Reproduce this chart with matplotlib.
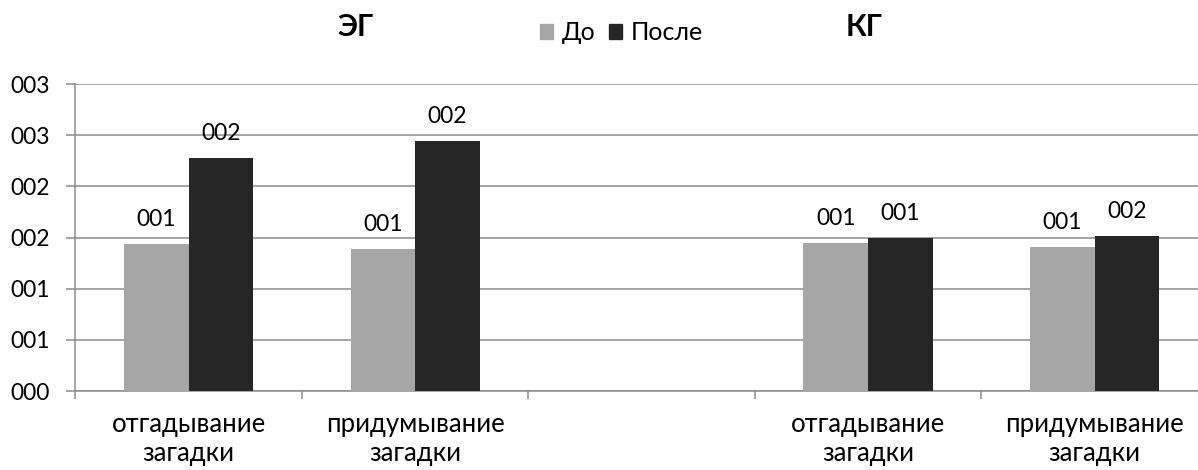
import math
import numpy as np
import matplotlib
matplotlib.use("Agg")
import matplotlib.pyplot as plt
from matplotlib.patches import Patch
from matplotlib.ticker import FuncFormatter, FixedLocator

plt.rcParams['font.family'] = ['Lato', 'DejaVu Sans']

# Data
categories = ["отгадывание\nзагадки", "придумывание\nзагадки", "",
              "отгадывание\nзагадки", "придумывание\nзагадки"]
before = [1.433, 1.390, np.nan, 1.443, 1.410]
after = [2.280, 2.446, np.nan, 1.492, 1.517]
series_names = ["До", "После"]
group_titles = ["ЭГ", "КГ"]

c_before = "#a6a6a6"
c_after = "#262626"
c_grid = "#8c8c8c"


def fmt3(v, pos=None):
    # whole-number format padded to three digits, rounding half up
    return f"{int(math.floor(v + 0.5)):03d}"


fig = plt.figure(figsize=(11.98, 4.70), dpi=100)
ax = fig.add_axes([0.063, 0.168, 0.9453, 0.653])

x = np.arange(len(categories))
w = 1 / 3.5
b1 = ax.bar(x - w / 2, before, w, color=c_before, zorder=3)
b2 = ax.bar(x + w / 2, after, w, color=c_after, zorder=3)

for bars, vals in ((b1, before), (b2, after)):
    for rect, v in zip(bars, vals):
        if np.isnan(v):
            continue
        ax.annotate(fmt3(v), (rect.get_x() + rect.get_width() / 2, v),
                    xytext=(0, 13), textcoords="offset points",
                    ha="center", va="baseline", fontsize=16.5, color="black")

ax.set_xlim(-0.5, len(categories) - 0.5)
ax.set_ylim(0, 3)
ax.yaxis.set_major_locator(FixedLocator(np.arange(0, 3.01, 0.5)))
ax.yaxis.set_major_formatter(FuncFormatter(fmt3))
ax.grid(axis="y", color=c_grid, linewidth=1.1, zorder=0)

# x ticks at category boundaries, labels at category centres
ax.set_xticks(np.arange(-0.5, len(categories), 1.0))
ax.set_xticklabels([])
ax.set_xticks(x, minor=True)
ax.set_xticklabels(categories, minor=True, fontsize=18.5, linespacing=1.22)
ax.tick_params(axis="x", which="major", length=6, width=1.1, color=c_grid,
               direction="out")
ax.tick_params(axis="x", which="minor", length=0, pad=15)
ax.tick_params(axis="y", length=6.5, width=1.1, color=c_grid, direction="out",
               labelsize=16.5, pad=12)

for s in ("top", "right"):
    ax.spines[s].set_visible(False)
for s in ("left", "bottom"):
    ax.spines[s].set_color(c_grid)
    ax.spines[s].set_linewidth(1.1)

# group titles
fig.text(0.297, 0.9426, group_titles[0], ha="center", va="center",
         fontsize=21.5, fontweight="bold")
fig.text(0.721, 0.9426, group_titles[1], ha="center", va="center",
         fontsize=21.5, fontweight="bold")

handles = [Patch(color=c_before, label=series_names[0]),
           Patch(color=c_after, label=series_names[1])]
fig.legend(handles=handles, loc="center", bbox_to_anchor=(0.519, 0.93),
           ncol=2, frameon=False, fontsize=18, handlelength=0.52,
           handleheight=0.52, handletextpad=0.35, columnspacing=0.55)

fig.savefig("out.png", dpi=100)
